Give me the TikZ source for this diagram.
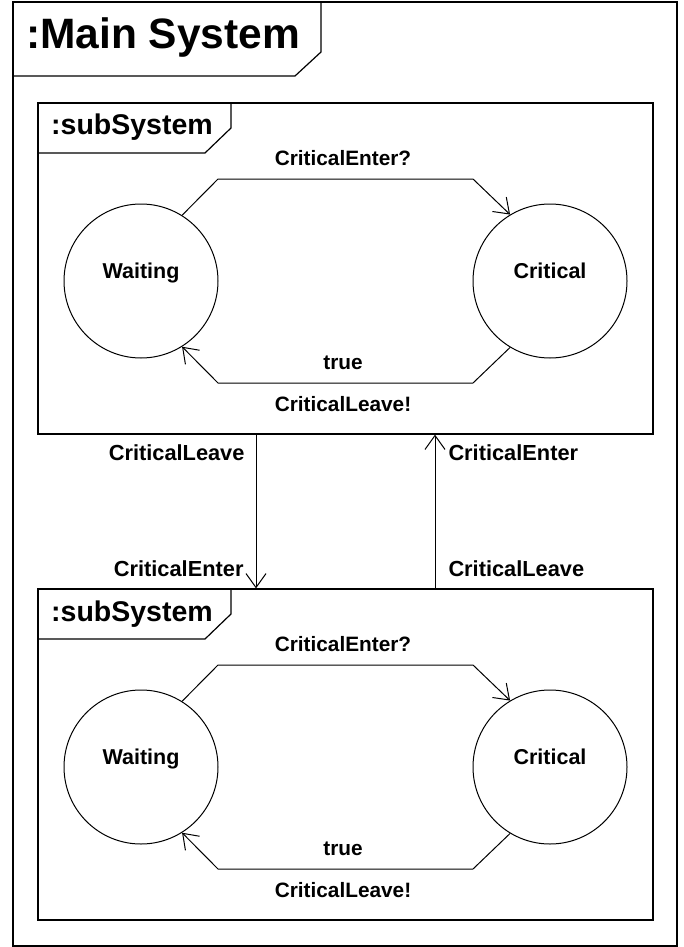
\documentclass[tikz,border=0pt]{standalone}
\usepackage{fontspec}
\setmainfont{Liberation Sans}
\usetikzlibrary{arrows.meta}

\begin{document}
\begin{tikzpicture}[
    x=1pt, y=-1pt,
    frame/.style={draw=black, line width=1.2pt},
    subbox/.style={rectangle, draw=black, line width=1.2pt, minimum width=615pt, minimum height=331pt, inner sep=0pt},
    state/.style={circle, draw=black, line width=1pt, minimum size=154pt, inner sep=0pt},
    statename/.style={font=\bfseries\fontsize{21.5}{24}\selectfont, text height=0pt, text depth=0pt, yshift=3pt, inner sep=0pt},
    trans/.style={-{Straight Barb[length=14pt, width=20pt]}, line width=1pt},
    lbl/.style={font=\bfseries\fontsize{20.8}{24}\selectfont, anchor=base, inner sep=0pt},
    link/.style={lbl, font=\bfseries\fontsize{21.8}{24}\selectfont},
    tabtext/.style={font=\bfseries\fontsize{28.5}{32}\selectfont, anchor=base west, inner sep=0pt}
]
\useasboundingbox (0,0) rectangle (683,947);

% outer frame with its tab
\draw[frame] (13,2) rectangle (677,946);
\draw[frame] (13,76) -- (295,76) -- (321,52) -- (321,2);
\node[tabtext, font=\bfseries\fontsize{42.5}{46}\selectfont] (title) at (26,49) {:Main System};

% the two subsystems
\foreach \s/\dy in {a/0, b/486} {
  \begin{scope}[shift={(0,\dy)}]
    \node[subbox] (sub\s) at (345.5,268.5) {};
    \draw[frame] (38,153) -- (205,153) -- (231,128) -- (231,103);
    \node[tabtext] (tab\s) at (51,135) {:subSystem};
    \node[state, label={[statename]center:Waiting}] (wait\s) at (141,281) {};
    \node[state, label={[statename]center:Critical}] (crit\s) at (550,281) {};
    \draw[trans] (wait\s.58) -- (218,179) -- (473,179) -- (crit\s.121);
    \draw[trans] (crit\s.-121) -- (473,383) -- (218,383) -- (wait\s.-58);
    \node[lbl] (enter\s) at (343,165) {CriticalEnter?};
    \node[lbl] (guard\s) at (343,369) {true};
    \node[lbl] (leave\s) at (343,411) {CriticalLeave!};
  \end{scope}
}

% links between the subsystems
\draw[trans] ([xshift=-89.5pt]suba.south) -- ([xshift=-89.5pt]subb.north)
  node[link, at start, anchor=base east, xshift=-11pt, yshift=-26pt] {CriticalLeave}
  node[link, at end, anchor=base east, xshift=-12pt, yshift=12pt] {CriticalEnter};
\draw[trans] ([xshift=89.5pt]subb.north) -- ([xshift=89.5pt]suba.south)
  node[link, at start, anchor=base west, xshift=13pt, yshift=12pt] {CriticalLeave}
  node[link, at end, anchor=base west, xshift=13pt, yshift=-26pt] {CriticalEnter};
\end{tikzpicture}
\end{document}
